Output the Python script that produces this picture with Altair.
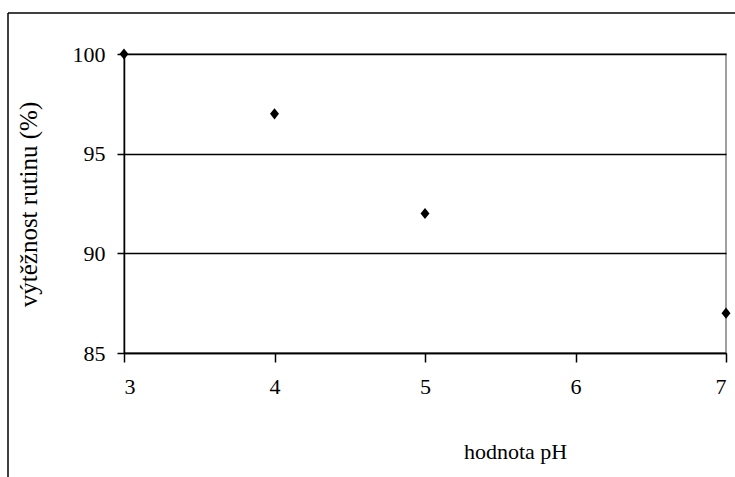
import altair as alt
import pandas as pd

# pH of the extraction medium and the resulting rutin yield
ph_values = [3, 4, 5, 7]
yield_pct = [100, 97, 92, 87]

x_ticks = [3, 4, 5, 6, 7]
y_ticks = [85, 90, 95, 100]

data = pd.DataFrame({"ph": ph_values, "yield": yield_pct})
frame = pd.DataFrame({"k": [0]})

FONT = "Liberation Serif, Times New Roman, serif"

points = alt.Chart(data).mark_point(
    shape="M0,-1.25L1,0L0,1.25L-1,0Z",
    filled=True,
    color="black",
    opacity=1,
    size=80,
).encode(
    x=alt.X(
        "ph:Q",
        scale=alt.Scale(domain=[3, 7], nice=False, zero=False),
        axis=alt.Axis(
            values=x_ticks,
            title="hodnota pH",
            grid=False,
            tickSize=9,
            labelPadding=14,
            labelFontSize=22,
            titleFontSize=22,
            titleX=391,
            titleY=105,
            titleAlign="center",
            titleBaseline="alphabetic",
        ),
    ),
    y=alt.Y(
        "yield:Q",
        scale=alt.Scale(domain=[85, 100], nice=False, zero=False),
        axis=alt.Axis(
            values=y_ticks,
            title="výtěžnost rutinu (%)",
            grid=True,
            tickSize=7,
            labelPadding=12,
            labelFontSize=22,
            titleFontSize=25,
            titleAngle=-90,
            titleX=-96,
            titleY=150,
            titleAlign="center",
            titleBaseline="middle",
        ),
    ),
)

# outer chart frame (left and top edges)
frame_left = alt.Chart(frame).mark_rule(color="black", strokeWidth=1.5).encode(
    x=alt.value(-116), y=alt.value(-41), y2=alt.value(520)
)
frame_top = alt.Chart(frame).mark_rule(color="black", strokeWidth=1.5).encode(
    x=alt.value(-116), x2=alt.value(700), y=alt.value(-41)
)

chart = (
    alt.layer(frame_left, frame_top, points)
    .properties(
        width=602,
        height=299,
        autosize=alt.AutoSizeParams(type="none"),
        padding={"left": 124, "top": 54, "right": 9, "bottom": 124},
        background="white",
    )
    .configure_view(stroke="#808080", strokeWidth=1.5)
    .configure_axis(
        domainColor="black",
        domainWidth=1.5,
        tickColor="black",
        tickWidth=1.5,
        gridColor="black",
        gridWidth=1.5,
        labelFont=FONT,
        labelColor="black",
        titleFont=FONT,
        titleFontWeight="normal",
        titleColor="black",
    )
)

chart.save("out.html", embed_options={"renderer": "svg", "actions": False})
